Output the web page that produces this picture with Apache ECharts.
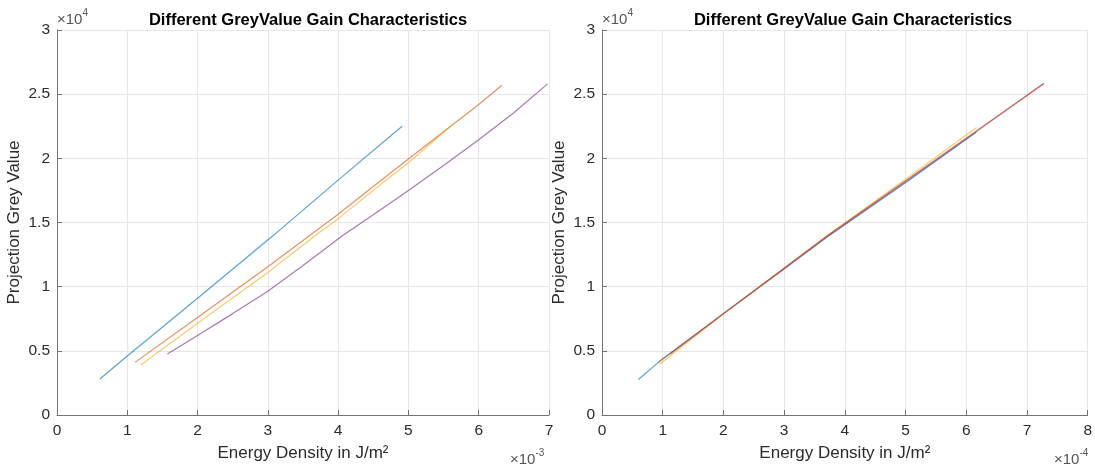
<!DOCTYPE html>
<html>
<head>
<meta charset="utf-8">
<script src="https://cdn.jsdelivr.net/npm/echarts@6/dist/echarts.min.js"></script>
<style>
  html, body { margin: 0; background: #fff; }
  #chart { width: 1095px; height: 467px; }
</style>
</head>
<body>
<div id="chart"></div>
<script>
// x in units of the axis multiplier (left: 1e-3 J/m², right: 1e-4 J/m²), y in 1e4 grey values
var xTicksLeft = [0, 1, 2, 3, 4, 5, 6, 7]
var xTicksRight = [0, 1, 2, 3, 4, 5, 6, 7, 8]
var yTicks = [0, 0.5, 1, 1.5, 2, 2.5, 3]

// left plot: raw gain characteristics
var leftBlue = [[0.61, 0.28], [1.0, 0.46], [2.0, 0.91], [3.08, 1.40], [4.0, 1.83], [4.91, 2.25]]
var leftOrange = [[1.11, 0.41], [2.0, 0.76], [3.0, 1.155], [3.6, 1.40], [4.0, 1.565], [4.73, 1.88], [5.0, 1.995], [6.0, 2.42], [6.33, 2.57]]
var leftYellow = [[1.19, 0.39], [2.0, 0.715], [3.0, 1.11], [3.68, 1.40], [4.0, 1.53], [4.73, 1.85], [5.0, 1.965], [5.62, 2.26]]
var leftPurple = [[1.57, 0.475], [2.0, 0.62], [2.5, 0.79], [3.0, 0.965], [3.5, 1.165], [4.07, 1.40], [4.5, 1.56], [5.0, 1.75], [5.5, 1.945], [6.0, 2.145], [6.5, 2.355], [6.98, 2.58]]

// right plot: corrected characteristics
var rightBlue = [[0.60, 0.277], [0.95, 0.42], [2.0, 0.79], [3.0, 1.14], [3.72, 1.39], [5.0, 1.81], [6.17, 2.205]]
var rightOrange = [[0.93, 0.41], [2.0, 0.79], [3.0, 1.145], [3.72, 1.40], [5.0, 1.825], [6.17, 2.215], [7.27, 2.58]]
var rightYellow = [[0.95, 0.395], [2.0, 0.787], [3.0, 1.142], [3.72, 1.40], [5.0, 1.838], [6.17, 2.24]]
var rightPurple = [[1.12, 0.475], [2.0, 0.79], [3.0, 1.14], [3.72, 1.395], [5.0, 1.82], [6.17, 2.21], [7.28, 2.585]]

var colors = ['#0072BD', '#D95319', '#EDB120', '#7E2F8E']
var font = '"Liberation Sans", Arial, sans-serif'
var axisGrey = '#737373'
var textGrey = '#2b2b2b'

function xAxis(gridIndex, ticks) {
  return {
    type: 'value',
    gridIndex: gridIndex,
    min: ticks[0],
    max: ticks[ticks.length - 1],
    interval: 1,
    name: 'Energy Density in J/m²',
    nameLocation: 'middle',
    nameGap: 30,
    nameTextStyle: { fontSize: 17, color: textGrey, fontFamily: font },
    axisLine: { show: true, lineStyle: { color: axisGrey, width: 1 } },
    axisTick: { show: true, inside: true, length: 5, lineStyle: { color: axisGrey } },
    axisLabel: { color: textGrey, fontSize: 15.5, margin: 8, fontFamily: font },
    splitLine: { show: true, lineStyle: { color: '#e6e6e6', width: 1 } }
  }
}

function yAxis(gridIndex) {
  return {
    type: 'value',
    gridIndex: gridIndex,
    min: yTicks[0],
    max: yTicks[yTicks.length - 1],
    interval: 0.5,
    name: 'Projection Grey Value',
    nameLocation: 'middle',
    nameGap: 34,
    nameTextStyle: { fontSize: 17, color: textGrey, fontFamily: font },
    axisLine: { show: true, lineStyle: { color: axisGrey, width: 1 } },
    axisTick: { show: true, inside: true, length: 5, lineStyle: { color: axisGrey } },
    axisLabel: { color: textGrey, fontSize: 15.5, margin: 7, fontFamily: font },
    splitLine: { show: true, lineStyle: { color: '#e6e6e6', width: 1 } }
  }
}

function line(data, color, xi, z) {
  return {
    type: 'line',
    data: data,
    xAxisIndex: xi,
    yAxisIndex: xi,
    showSymbol: false,
    symbol: 'none',
    z: z || 2,
    lineStyle: { color: color, width: 1.2, opacity: 0.65 },
    itemStyle: { color: color },
    animation: false
  }
}

function multiplier(x, y, base, exp) {
  return {
    type: 'text',
    left: x,
    top: y,
    style: {
      text: '{a|' + base + '}{b|' + exp + '}',
      rich: {
        a: { fontSize: 15, fill: '#555', fontFamily: font, padding: [7, 0, 0, 0] },
        b: { fontSize: 10, fill: '#555', fontFamily: font, padding: [0, 0, 7, 0] }
      }
    }
  }
}

var chart = echarts.init(document.getElementById('chart'))
chart.setOption({
  backgroundColor: '#fff',
  animation: false,
  title: [
    { text: 'Different GreyValue Gain Characteristics', left: 303, top: 7, textAlign: 'center',
      textStyle: { fontSize: 16.5, fontWeight: 'bold', color: '#000', fontFamily: font } },
    { text: 'Different GreyValue Gain Characteristics', left: 848, top: 7, textAlign: 'center',
      textStyle: { fontSize: 16.5, fontWeight: 'bold', color: '#000', fontFamily: font } }
  ],
  grid: [
    { left: 57, top: 30, width: 492, height: 387 },
    { left: 602, top: 30, width: 491, height: 387 }
  ],
  xAxis: [xAxis(0, xTicksLeft), xAxis(1, xTicksRight)],
  yAxis: [yAxis(0), yAxis(1)],
  series: [
    line(leftBlue, colors[0], 0),
    line(leftOrange, colors[1], 0),
    line(leftYellow, colors[2], 0),
    line(leftPurple, colors[3], 0),
    line(rightBlue, colors[0], 1),
    line(rightYellow, colors[2], 1),
    line(rightPurple, colors[3], 1),
    line(rightOrange, colors[1], 1, 3)
  ],
  graphic: [
    multiplier(57, 8, '×10', '4'),
    multiplier(602, 8, '×10', '4'),
    multiplier(510, 448, '×10', '-3'),
    multiplier(1054, 448, '×10', '-4')
  ]
})
</script>
</body>
</html>
